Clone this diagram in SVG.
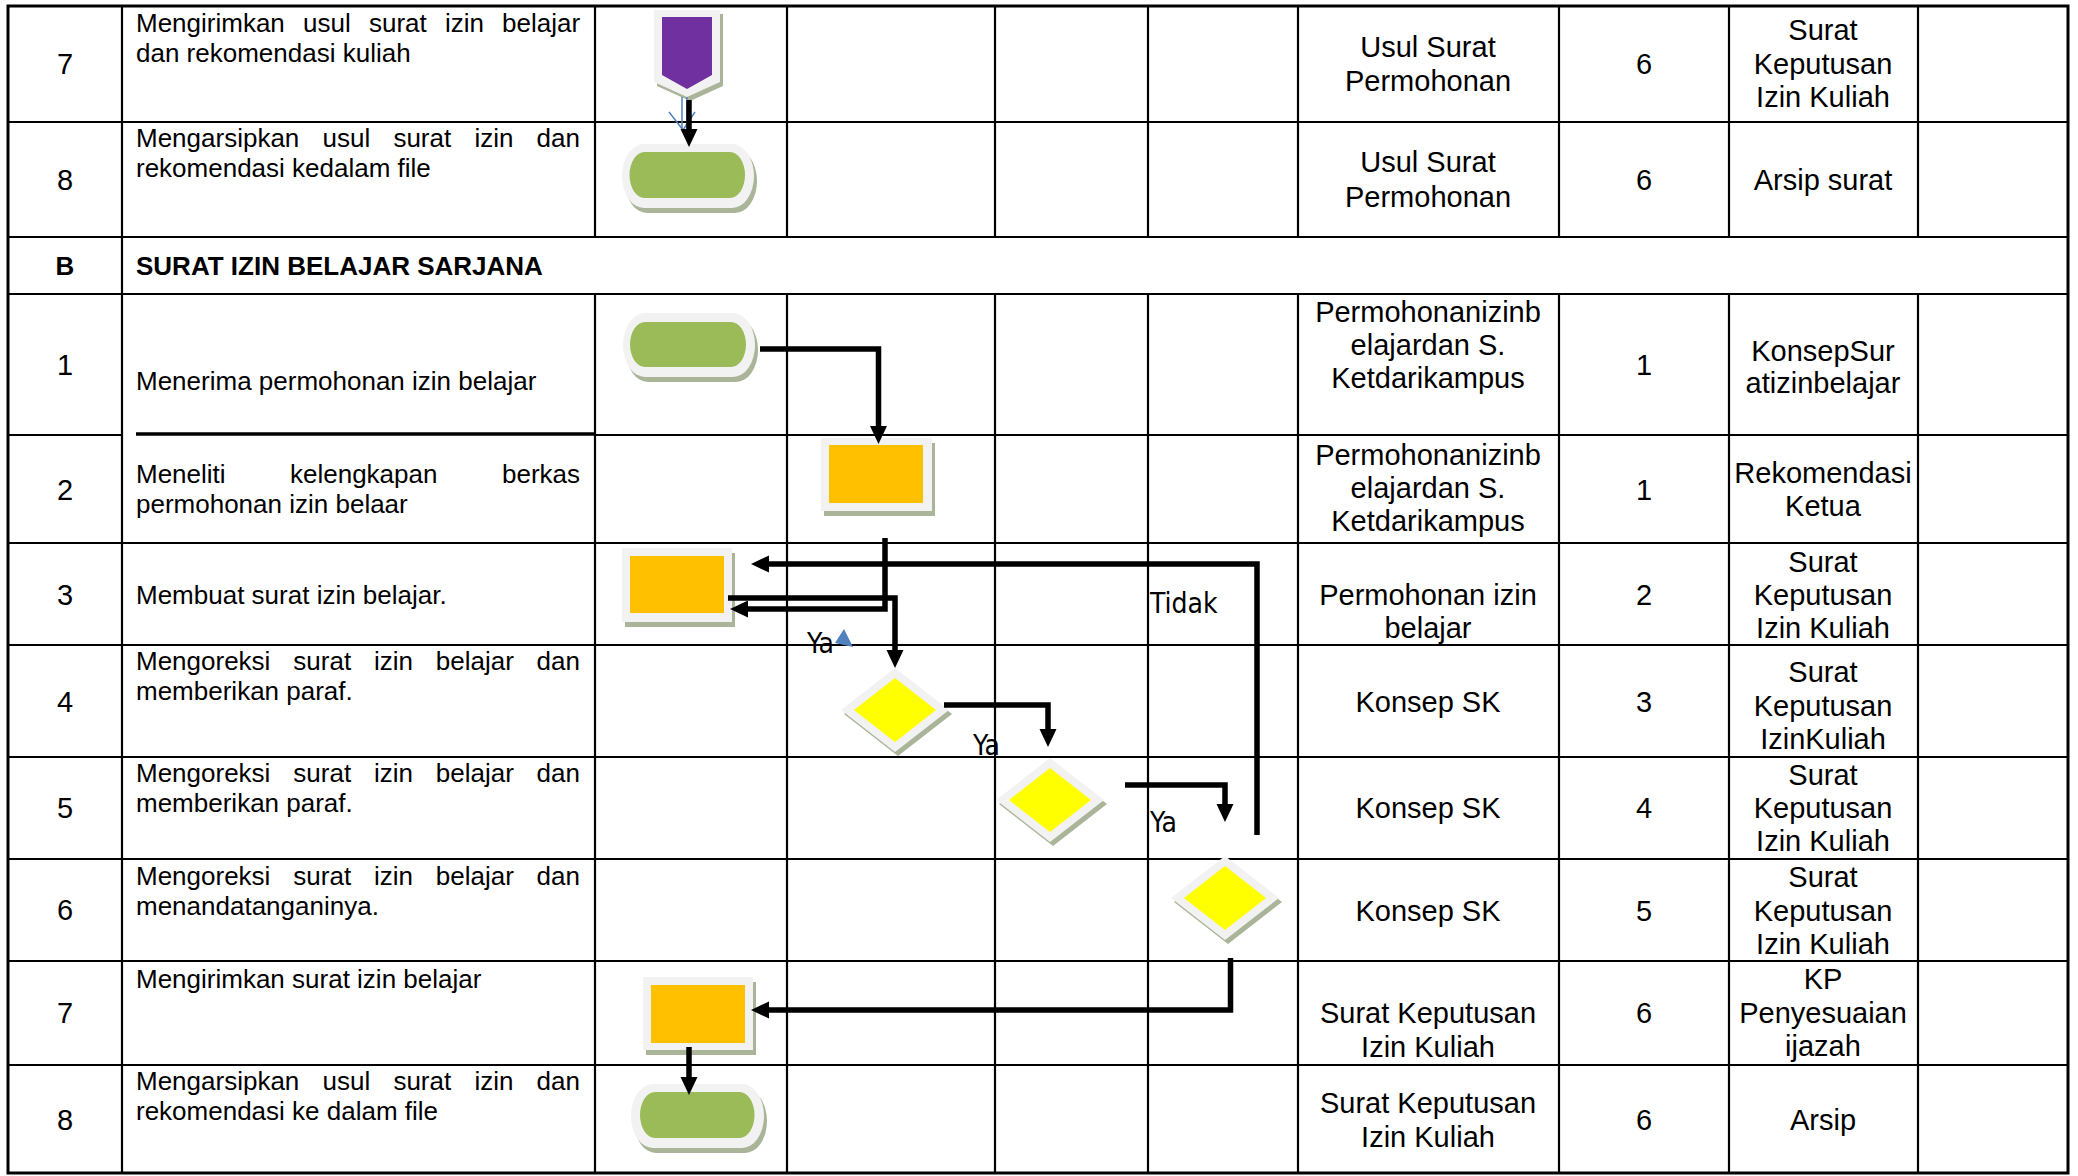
<svg xmlns="http://www.w3.org/2000/svg" width="2078" height="1176" viewBox="0 0 2078 1176">
<style>
text{font-family:"Liberation Sans",Arial,sans-serif;fill:#000}
.num{font-size:29px;text-anchor:middle}
.rt{font-size:29px;text-anchor:middle}
.desc{font-size:26px}
.hdr{font-size:26px;font-weight:bold}
.lbl{font-family:"DejaVu Sans Condensed","DejaVu Sans",sans-serif;font-size:28px}
.grid line{stroke:#000;stroke-width:2.2}
.outer{fill:none;stroke:#000;stroke-width:3}
.sh{fill:#aab498}
.bd{fill:#f2f2f2}
.grn{fill:#9bbb59}
.org{fill:#ffc000}
.yel{fill:#ffff00}
.pur{fill:#7030a0}
.conn path{fill:none;stroke:#000;stroke-width:5.5;stroke-linejoin:miter;marker-end:url(#ah)}
</style>
<defs>
<marker id="ah" markerUnits="userSpaceOnUse" markerWidth="20" markerHeight="18" refX="8" refY="8.5" orient="auto"><path d="M0,0 L18,8.5 L0,17 z" fill="#000"/></marker>
</defs>
<rect width="2078" height="1176" fill="#fff"/>
<g id="table" class="grid">
<line x1="8" y1="122" x2="2068" y2="122"/>
<line x1="8" y1="237" x2="2068" y2="237"/>
<line x1="8" y1="294" x2="2068" y2="294"/>
<line x1="8" y1="435" x2="122" y2="435"/>
<line x1="136" y1="434" x2="595" y2="434" style="stroke-width:3.5"/>
<line x1="595" y1="435" x2="2068" y2="435"/>
<line x1="8" y1="543" x2="2068" y2="543"/>
<line x1="8" y1="645" x2="2068" y2="645"/>
<line x1="8" y1="757" x2="2068" y2="757"/>
<line x1="8" y1="859" x2="2068" y2="859"/>
<line x1="8" y1="961" x2="2068" y2="961"/>
<line x1="8" y1="1065" x2="2068" y2="1065"/>
<line x1="122" y1="6" x2="122" y2="1173"/>
<line x1="595" y1="6" x2="595" y2="237"/><line x1="595" y1="294" x2="595" y2="1173"/>
<line x1="787" y1="6" x2="787" y2="237"/><line x1="787" y1="294" x2="787" y2="1173"/>
<line x1="995" y1="6" x2="995" y2="237"/><line x1="995" y1="294" x2="995" y2="1173"/>
<line x1="1148" y1="6" x2="1148" y2="237"/><line x1="1148" y1="294" x2="1148" y2="1173"/>
<line x1="1298" y1="6" x2="1298" y2="237"/><line x1="1298" y1="294" x2="1298" y2="1173"/>
<line x1="1559" y1="6" x2="1559" y2="237"/><line x1="1559" y1="294" x2="1559" y2="1173"/>
<line x1="1729" y1="6" x2="1729" y2="237"/><line x1="1729" y1="294" x2="1729" y2="1173"/>
<line x1="1918" y1="6" x2="1918" y2="237"/><line x1="1918" y1="294" x2="1918" y2="1173"/>
<rect class="outer" x="8" y="6" width="2060" height="1167"/>
</g>
<g id="texts">
<text class="num" x="65" y="74">7</text>
<text class="desc" y="32"><tspan x="136">Mengirimkan</tspan><tspan x="303">usul</tspan><tspan x="369">surat</tspan><tspan x="445">izin</tspan><tspan x="502">belajar</tspan></text>
<text class="desc" x="136" y="62">dan rekomendasi kuliah</text>
<text class="rt" x="1428" y="57">Usul Surat</text><text class="rt" x="1428" y="91">Permohonan</text>
<text class="rt" x="1644" y="74">6</text>
<text class="rt" x="1823" y="40">Surat</text><text class="rt" x="1823" y="74">Keputusan</text><text class="rt" x="1823" y="107">Izin Kuliah</text>

<text class="num" x="65" y="190">8</text>
<text class="desc" y="147"><tspan x="136">Mengarsipkan</tspan><tspan x="322.5">usul</tspan><tspan x="393.4">surat</tspan><tspan x="474.4">izin</tspan><tspan x="536.6">dan</tspan></text>
<text class="desc" x="136" y="177">rekomendasi kedalam file</text>
<text class="rt" x="1428" y="172">Usul Surat</text><text class="rt" x="1428" y="207">Permohonan</text>
<text class="rt" x="1644" y="190">6</text>
<text class="rt" x="1823" y="190">Arsip surat</text>

<text class="hdr" x="65" y="275" text-anchor="middle">B</text>
<text class="hdr" x="136" y="275">SURAT IZIN BELAJAR SARJANA</text>

<text class="num" x="65" y="375">1</text>
<text class="desc" x="136" y="390">Menerima permohonan izin belajar</text>
<text class="rt" x="1428" y="322">Permohonanizinb</text><text class="rt" x="1428" y="355">elajardan S.</text><text class="rt" x="1428" y="388">Ketdarikampus</text>
<text class="rt" x="1644" y="375">1</text>
<text class="rt" x="1823" y="361">KonsepSur</text><text class="rt" x="1823" y="393">atizinbelajar</text>

<text class="num" x="65" y="500">2</text>
<text class="desc" y="483"><tspan x="136">Meneliti</tspan><tspan x="290">kelengkapan</tspan><tspan x="502">berkas</tspan></text>
<text class="desc" x="136" y="513">permohonan izin belaar</text>
<text class="rt" x="1428" y="465">Permohonanizinb</text><text class="rt" x="1428" y="498">elajardan S.</text><text class="rt" x="1428" y="531">Ketdarikampus</text>
<text class="rt" x="1644" y="500">1</text>
<text class="rt" x="1823" y="483">Rekomendasi</text><text class="rt" x="1823" y="516">Ketua</text>

<text class="num" x="65" y="605">3</text>
<text class="desc" x="136" y="604">Membuat surat izin belajar.</text>
<text class="rt" x="1428" y="605">Permohonan izin</text><text class="rt" x="1428" y="638">belajar</text>
<text class="rt" x="1644" y="605">2</text>
<text class="rt" x="1823" y="572">Surat</text><text class="rt" x="1823" y="605">Keputusan</text><text class="rt" x="1823" y="638">Izin Kuliah</text>

<text class="num" x="65" y="712">4</text>
<text class="desc" y="670"><tspan x="136">Mengoreksi</tspan><tspan x="293.3">surat</tspan><tspan x="373.9">izin</tspan><tspan x="435.8">belajar</tspan><tspan x="536.6">dan</tspan></text>
<text class="desc" x="136" y="700">memberikan paraf.</text>
<text class="rt" x="1428" y="712">Konsep SK</text>
<text class="rt" x="1644" y="712">3</text>
<text class="rt" x="1823" y="682">Surat</text><text class="rt" x="1823" y="716">Keputusan</text><text class="rt" x="1823" y="749">IzinKuliah</text>

<text class="num" x="65" y="818">5</text>
<text class="desc" y="782"><tspan x="136">Mengoreksi</tspan><tspan x="293.3">surat</tspan><tspan x="373.9">izin</tspan><tspan x="435.8">belajar</tspan><tspan x="536.6">dan</tspan></text>
<text class="desc" x="136" y="812">memberikan paraf.</text>
<text class="rt" x="1428" y="818">Konsep SK</text>
<text class="rt" x="1644" y="818">4</text>
<text class="rt" x="1823" y="785">Surat</text><text class="rt" x="1823" y="818">Keputusan</text><text class="rt" x="1823" y="851">Izin Kuliah</text>

<text class="num" x="65" y="920">6</text>
<text class="desc" y="885"><tspan x="136">Mengoreksi</tspan><tspan x="293.3">surat</tspan><tspan x="373.9">izin</tspan><tspan x="435.8">belajar</tspan><tspan x="536.6">dan</tspan></text>
<text class="desc" x="136" y="915">menandatanganinya.</text>
<text class="rt" x="1428" y="921">Konsep SK</text>
<text class="rt" x="1644" y="921">5</text>
<text class="rt" x="1823" y="887">Surat</text><text class="rt" x="1823" y="921">Keputusan</text><text class="rt" x="1823" y="954">Izin Kuliah</text>

<text class="num" x="65" y="1023">7</text>
<text class="desc" x="136" y="988">Mengirimkan surat izin belajar</text>
<text class="rt" x="1428" y="1023">Surat Keputusan</text><text class="rt" x="1428" y="1057">Izin Kuliah</text>
<text class="rt" x="1644" y="1023">6</text>
<text class="rt" x="1823" y="989">KP</text><text class="rt" x="1823" y="1023">Penyesuaian</text><text class="rt" x="1823" y="1056">ijazah</text>

<text class="num" x="65" y="1130">8</text>
<text class="desc" y="1090"><tspan x="136">Mengarsipkan</tspan><tspan x="322.5">usul</tspan><tspan x="393.4">surat</tspan><tspan x="474.4">izin</tspan><tspan x="536.6">dan</tspan></text>
<text class="desc" x="136" y="1120">rekomendasi ke dalam file</text>
<text class="rt" x="1428" y="1113">Surat Keputusan</text><text class="rt" x="1428" y="1147">Izin Kuliah</text>
<text class="rt" x="1644" y="1130">6</text>
<text class="rt" x="1823" y="1130">Arsip</text>
</g>

<g id="n_offpage">
<polygon class="sh" points="657,14 723,14 723,86 690,101 657,86"/>
<polygon class="bd" points="654,10 720,10 720,82 687,97 654,82"/>
<polygon class="pur" points="662,17 712,17 712,75 687,89 662,75"/>
</g>
<g id="n_archive1">
<rect class="sh" x="625" y="149" width="132" height="64" rx="22" ry="32"/>
<rect class="bd" x="622" y="144" width="132" height="64" rx="22" ry="32"/>
<rect class="grn" x="629.5" y="152" width="115.5" height="46" rx="15" ry="23"/>
</g>
<g id="n_start">
<rect class="sh" x="626" y="318" width="132" height="64" rx="22" ry="32"/>
<rect class="bd" x="623" y="313" width="132" height="64" rx="22" ry="32"/>
<rect class="grn" x="630" y="322" width="116" height="45" rx="15" ry="23"/>
</g>
<g id="n_check">
<rect class="sh" x="824" y="443" width="111" height="73"/>
<rect class="bd" x="821" y="438" width="111" height="73"/>
<rect class="org" x="829" y="445" width="94" height="58"/>
</g>
<g id="n_make">
<rect class="sh" x="625" y="553" width="110" height="74"/>
<rect class="bd" x="622" y="548" width="110" height="74"/>
<rect class="org" x="630" y="556" width="94" height="57"/>
</g>
<g id="n_dec4">
<polygon class="sh" points="898,672 952,714 898,756 844,714"/>
<polygon class="bd" points="895,668 949,710 895,752 841,710"/>
<polygon class="yel" points="895,678 936,710 895,742 854,710"/>
</g>
<g id="n_dec5">
<polygon class="sh" points="1053,762 1107,804 1053,846 999,804"/>
<polygon class="bd" points="1050,758 1104,800 1050,842 996,800"/>
<polygon class="yel" points="1050,768 1091,800 1050,832 1009,800"/>
</g>
<g id="n_dec6">
<polygon class="sh" points="1228,860 1282,902 1228,944 1174,902"/>
<polygon class="bd" points="1225,856 1279,898 1225,940 1171,898"/>
<polygon class="yel" points="1225,866 1266,898 1225,930 1184,898"/>
</g>
<g id="n_send">
<rect class="sh" x="646" y="982" width="110" height="73"/>
<rect class="bd" x="643" y="977" width="110" height="73"/>
<rect class="org" x="651" y="985" width="94" height="58"/>
</g>
<g id="n_archive2">
<rect class="sh" x="634" y="1089" width="133" height="64" rx="22" ry="32"/>
<rect class="bd" x="631" y="1084" width="133" height="64" rx="22" ry="32"/>
<rect class="grn" x="640" y="1092" width="114.5" height="46" rx="15" ry="23"/>
</g>

<g id="connectors" class="conn">
<g fill="none" stroke="#4f81bd" stroke-width="1.5">
<line x1="682" y1="97" x2="682" y2="130" stroke="#4f81bd"/>
<line x1="687" y1="97" x2="687" y2="130" stroke="#4f81bd"/>
<polyline points="669,112 683,130 695,112" fill="none" stroke="#4f81bd"/>
</g>
<path d="M689,100 V137"/>
<path d="M760,349 H878.5 V434"/>
<path d="M885,538 V609 H740"/>
<path d="M728,598 H895 V658"/>
<path d="M944,705 H1048 V737"/>
<path d="M1125,785 H1225 V812"/>
<path d="M1257,835 V564 H761"/>
<path d="M1230.5,958 V1010 H761"/>
<path d="M689,1047 V1085"/>
<polygon points="844,629 835,643 853,647" fill="#4f81bd"/>
<text class="lbl" x="1150" y="613">Tidak</text>
<text class="lbl" x="807" y="653">Ya</text>
<text class="lbl" x="973" y="755">Ya</text>
<text class="lbl" x="1150" y="832">Ya</text>
</g>
</svg>
